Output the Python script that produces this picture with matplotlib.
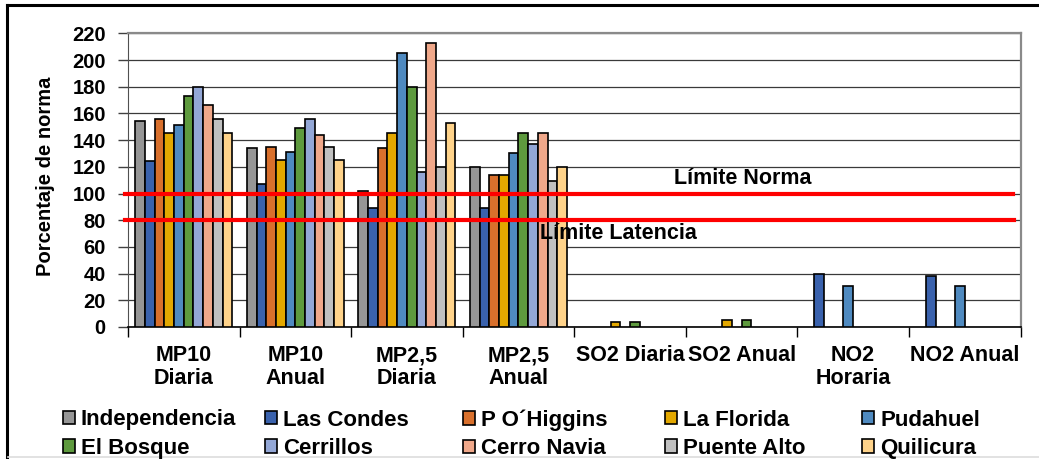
import matplotlib
matplotlib.use("Agg")
import matplotlib.pyplot as plt
from matplotlib.lines import Line2D
import numpy as np

plt.rcParams['font.family'] = ['Liberation Sans', 'DejaVu Sans']
plt.rcParams['font.weight'] = 'bold'

categories = ["MP10\nDiaria", "MP10\nAnual", "MP2,5\nDiaria", "MP2,5\nAnual",
              "SO2 Diaria", "SO2 Anual", "NO2\nHoraria", "NO2 Anual"]
stations = ["Independencia", "Las Condes", "P O\u00b4Higgins", "La Florida", "Pudahuel",
            "El Bosque", "Cerrillos", "Cerro Navia", "Puente Alto", "Quilicura"]
colors = ["#969696", "#3A62AD", "#D9702C", "#E3A800", "#4F8AC0",
          "#5E9A3E", "#93A7D6", "#F0A88A", "#C0C0C0", "#FFD38A"]

nan = np.nan
# values per station across the 8 categories
independencia = [154, 134, 102, 120, nan, nan, nan, nan]
las_condes    = [124, 107, 89, 89, nan, nan, 40, 38]
p_ohiggins    = [156, 135, 134, 114, nan, nan, nan, nan]
la_florida    = [145, 125, 145, 114, 3.5, 5, nan, nan]
pudahuel      = [151, 131, 205, 130, nan, nan, 31, 31]
el_bosque     = [173, 149, 180, 145, 3.5, 5, nan, nan]
cerrillos     = [180, 156, 116, 137, nan, nan, nan, nan]
cerro_navia   = [166, 144, 213, 145, nan, nan, nan, nan]
puente_alto   = [156, 135, 120, 109, nan, nan, nan, nan]
quilicura     = [145, 125, 153, 120, nan, nan, nan, nan]
series = [independencia, las_condes, p_ohiggins, la_florida, pudahuel,
          el_bosque, cerrillos, cerro_navia, puente_alto, quilicura]

limite_norma = 100
limite_latencia = 80
yticks = list(range(0, 221, 20))

W, H = 1039, 459
fig = plt.figure(figsize=(W / 100, H / 100), dpi=100)
ax = fig.add_axes([128 / W, 1 - 327 / H, (1020.5 - 128) / W, (327 - 33.3) / H])

x = np.arange(len(categories))
bw = 0.087
bars = []
for i, (vals, c, name) in enumerate(zip(series, colors, stations)):
    b = ax.bar(x - 0.435 + bw * (i + 0.5), vals, width=bw, color=c,
               edgecolor="black", linewidth=1.2, label=name, zorder=3)
    bars.append(b)

ax.set_xlim(-0.5, len(categories) - 0.5)
ax.set_ylim(0, 220)
ax.set_yticks(yticks)
ax.set_yticklabels([str(v) for v in yticks], fontsize=14.5, fontweight='bold')
ax.yaxis.grid(True, color="#3a3a3a", linewidth=0.9, zorder=0)
ax.set_axisbelow(True)

ax.set_xticks(x)
ax.set_xticklabels(categories, fontsize=15.5, fontweight='bold', linespacing=1.15)
ax.set_xticks(np.arange(-0.5, len(categories) + 0.5, 1), minor=True)
ax.tick_params(axis='x', which='major', length=0, pad=13)
ax.tick_params(axis='x', which='minor', length=7, width=1, color='black', direction='out')
ax.tick_params(axis='y', length=7, width=1, color='#404040', direction='out', pad=9)

for s in ['top', 'right']:
    ax.spines[s].set_color('#8a8a8a')
    ax.spines[s].set_linewidth(1.6)
ax.spines['left'].set_color('#505050')
ax.spines['bottom'].set_color('black')
ax.spines['bottom'].set_linewidth(1.2)

ax.axhline(limite_norma, xmin=-0.003, xmax=0.992, color='#FF0000', linewidth=3, zorder=4, clip_on=False)
ax.axhline(limite_latencia, xmin=-0.003, xmax=0.993, color='#FF0000', linewidth=3, zorder=4, clip_on=False)

fig.text(743 / W, 1 - 179 / H, "Límite Norma", ha='center', va='center',
         fontsize=15.5, fontweight='bold', zorder=5)
fig.text(618 / W, 1 - 234 / H, "Límite Latencia", ha='center', va='center',
         fontsize=15.5, fontweight='bold', zorder=5)

fig.text(46 / W, 1 - 176 / H, "Porcentaje de norma", rotation=90, ha='center', va='center',
         fontsize=14.5, fontweight='bold')

# legend: 5 columns, 2 rows
col_x = [63, 265, 463, 665, 862]
for j in range(5):
    hs = [bars[j], bars[j + 5]]
    ls = [stations[j], stations[j + 5]]
    fig.legend(hs, ls, loc='upper left', bbox_to_anchor=(col_x[j] / W, 1 - 409.5 / H),
               frameon=False, borderpad=0, borderaxespad=0, handlelength=0.56,
               handleheight=0.56, handletextpad=0.25, labelspacing=0.33,
               prop={'size': 16, 'weight': 'bold'})

# outer chart border (left/top visible, bottom light)
fig.add_artist(Line2D([6.5 / W, 6.5 / W], [0, 1 - 5 / H], color='black', linewidth=2.2))
fig.add_artist(Line2D([6.5 / W, 1], [1 - 5 / H, 1 - 5 / H], color='black', linewidth=2.2))
fig.add_artist(Line2D([8 / W, 1], [1 - 457 / H, 1 - 457 / H], color='#dddddd', linewidth=1.2))

fig.savefig("out.png", dpi=100)
